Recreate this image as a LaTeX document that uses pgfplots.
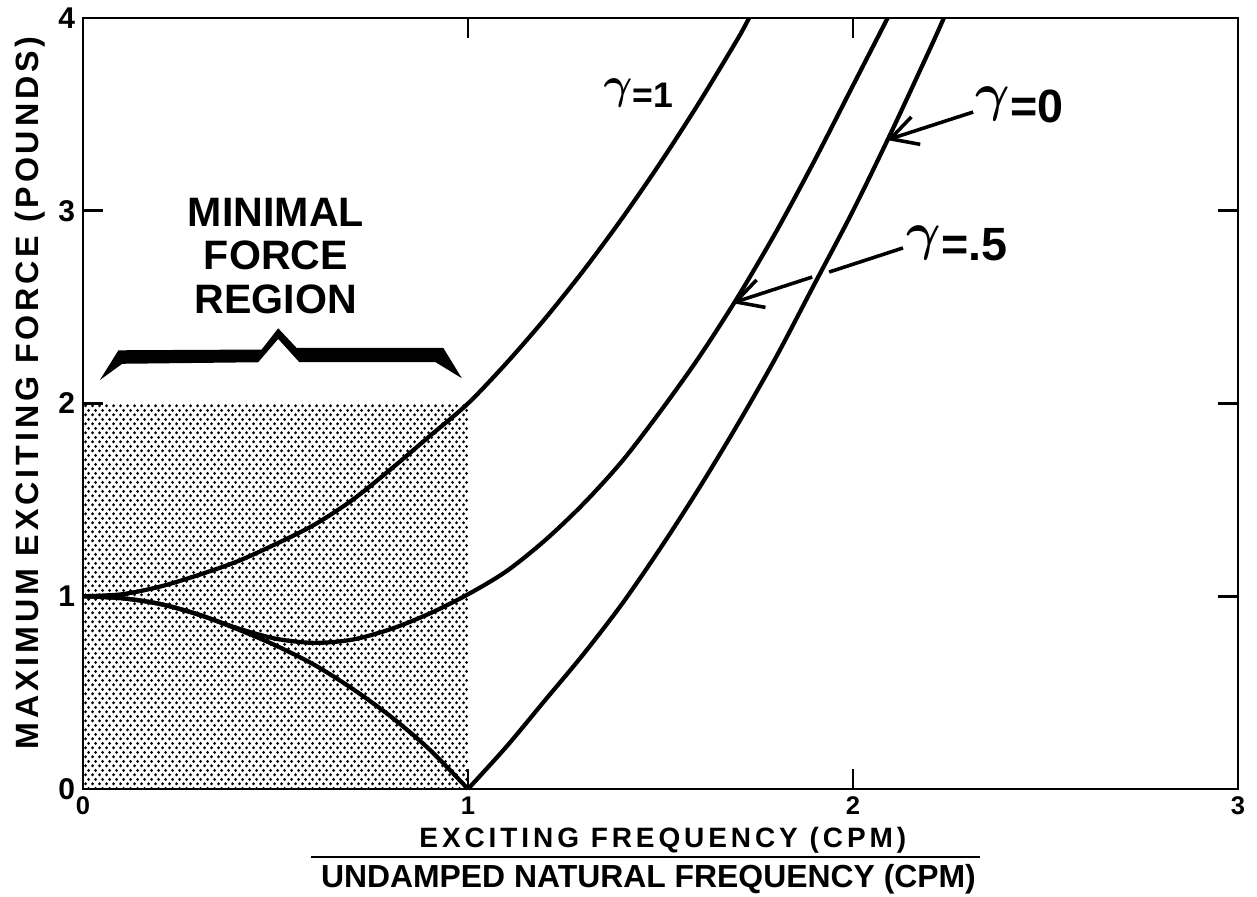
\documentclass[border=0pt]{standalone}
\usepackage{fontspec}
\setmainfont{Liberation Sans}
\newfontfamily\widesans[LetterSpace=14]{Liberation Sans}
\newfontfamily\ysans[LetterSpace=12]{Liberation Sans}
\usepackage{pgfplots}
\pgfplotsset{compat=1.18}
\usetikzlibrary{patterns,arrows.meta}

% halftone screen of the shaded region
\pgfdeclarepatternformonly{halftone}{\pgfpointorigin}{\pgfpoint{3.15pt}{4.2pt}}{\pgfpoint{3.15pt}{4.2pt}}{%
  \pgfpathcircle{\pgfpoint{0.79pt}{1.05pt}}{0.78pt}%
  \pgfpathcircle{\pgfpoint{2.365pt}{3.15pt}}{0.78pt}%
  \pgfusepath{fill}%
}

% hand-lettered gamma: as tall as the capitals
\newcommand\Gam{\raisebox{0.25em}{\scalebox{1.15}{\boldmath$\gamma$}}}
\newcommand\xtickfont{\bfseries\fontsize{11.5}{13}\selectfont}
\newcommand\ytickfont{\bfseries\fontsize{13.5}{15}\selectfont}

\tikzset{
  curve/.style={black, line width=1.9pt, smooth, no markers},
  pointer/.style={black, line width=1.6pt},
  tip/.style={-{Straight Barb[length=12pt,width=13pt]}},
}

\begin{document}
\begin{tikzpicture}
\begin{axis}[
  scale only axis,
  width=519.75pt, height=346.95pt,
  xmin=0, xmax=3, ymin=0, ymax=4,
  xtick={0,1,2,3}, ytick={0,1,2,3,4},
  tick align=inside,
  major tick length=9pt,
  axis line style={line width=1.2pt},
  every tick/.append style={black, line width=1.2pt},
  /pgf/number format/assume math mode=true,
  xticklabel={\xtickfont\pgfmathprintnumber{\tick}},
  yticklabel={\ytickfont\pgfmathprintnumber{\tick}},
  clip=false,
]

% minimal force region
\addplot[draw=none, pattern=halftone] coordinates {(0,2) (1,2)} \closedcycle;

% gamma = 1
\addplot[curve] coordinates {
  (0,1.00) (0.1,1.01) (0.2,1.05) (0.3,1.11) (0.4,1.18) (0.5,1.27)
  (0.6,1.37) (0.7,1.50) (0.8,1.66) (0.9,1.83) (1.0,2.00) (1.1,2.21)
  (1.2,2.44) (1.3,2.69) (1.4,2.96) (1.5,3.25) (1.6,3.56) (1.7,3.89) (1.73,4.0)
};

% gamma = .5
\addplot[curve] coordinates {
  (0,1.00) (0.1,0.99) (0.2,0.96) (0.3,0.905) (0.4,0.835) (0.5,0.78)
  (0.6,0.758) (0.7,0.775) (0.8,0.83) (0.9,0.91) (1.0,1.01) (1.1,1.13)
  (1.2,1.29) (1.3,1.48) (1.4,1.70) (1.5,1.96) (1.6,2.24) (1.7,2.55)
  (1.8,2.89) (1.9,3.26) (2.0,3.65) (2.09,4.0)
};

% gamma = 0, below and above resonance
\addplot[curve] coordinates {
  (0,1.00) (0.1,0.99) (0.2,0.96) (0.3,0.905) (0.4,0.83) (0.5,0.745)
  (0.6,0.645) (0.7,0.52) (0.8,0.375) (0.9,0.205) (1.0,0.0)
};
\addplot[curve] coordinates {
  (1.0,0.0) (1.1,0.22) (1.2,0.46) (1.3,0.70) (1.4,0.96) (1.5,1.25)
  (1.6,1.56) (1.7,1.89) (1.8,2.24) (1.9,2.62) (2.0,3.00) (2.1,3.41)
  (2.2,3.84) (2.236,4.0)
};

% brace
\fill (axis cs:0.044,2.122) -- (axis cs:0.092,2.276) -- (axis cs:0.464,2.280)
  -- (axis cs:0.507,2.390) -- (axis cs:0.555,2.288) -- (axis cs:0.936,2.288)
  -- (axis cs:0.984,2.131) -- (axis cs:0.916,2.214) -- (axis cs:0.562,2.214)
  -- (axis cs:0.507,2.335) -- (axis cs:0.455,2.214) -- (axis cs:0.102,2.206) -- cycle;

\node[align=center, font=\bfseries\fontsize{18.5}{19.6}\selectfont] at (axis cs:0.501,2.765)
  {MINIMAL\\FORCE\\REGION};

% curve labels
\node[anchor=west, inner sep=0pt, font=\bfseries\fontsize{16}{18}\selectfont] at (axis cs:1.351,3.61) {\Gam=1};
\node[anchor=west, inner sep=0pt, font=\bfseries\fontsize{21}{24}\selectfont] at (axis cs:2.317,3.55) {\Gam=0};
\node[anchor=west, inner sep=0pt, font=\bfseries\fontsize{21}{24}\selectfont] at (axis cs:2.138,2.83) {\Gam=.5};

\draw[pointer, tip] (axis cs:2.312,3.512) -- (axis cs:2.088,3.367);
\draw[pointer] (axis cs:2.130,2.807) -- (axis cs:1.938,2.682);
\draw[pointer, tip] (axis cs:1.894,2.656) -- (axis cs:1.686,2.521);

% axis titles
\node[rotate=90, font=\ysans\bfseries\fontsize{14.5}{16}\selectfont] at (rel axis cs:-0.0459,0.5136)
  {MAXIMUM EXCITING FORCE (POUNDS)};
\node[anchor=base, font=\widesans\bfseries\fontsize{12.6}{14}\selectfont] at (rel axis cs:0.502,-0.0765)
  {EXCITING FREQUENCY (CPM)};
\draw[line width=1.1pt] (rel axis cs:0.197,-0.0882) -- (rel axis cs:0.777,-0.0882);
\node[anchor=base, font=\bfseries\fontsize{14.35}{16}\selectfont] at (rel axis cs:0.4896,-0.1284)
  {UNDAMPED NATURAL FREQUENCY (CPM)};

\end{axis}
\pgfresetboundingbox
\path[use as bounding box] ([shift={(-37.35pt,-48.6pt)}]current axis.south west)
  rectangle ([shift={(8.55pt,8.1pt)}]current axis.north east);
\end{tikzpicture}
\end{document}
